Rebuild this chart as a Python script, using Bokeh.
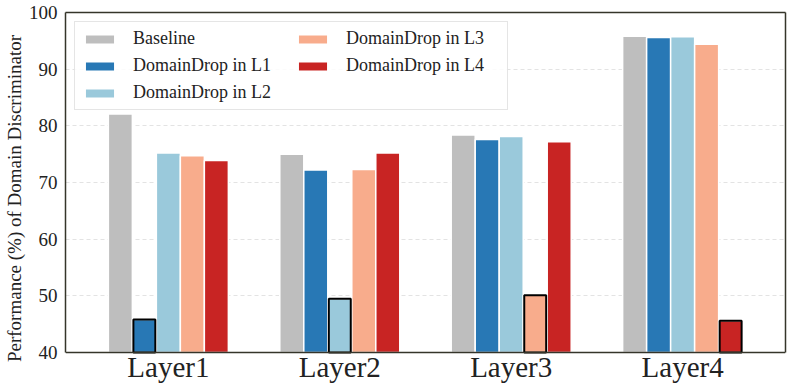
from bokeh.plotting import figure
from bokeh.models import (ColumnDataSource, FactorRange, Range1d, Legend, LegendItem, Title,
                          SingleIntervalTicker, LabelSet, LinearAxis, CategoricalAxis, Span)
from bokeh.transform import dodge
from bokeh.embed import file_html
from bokeh.resources import INLINE

layers = ["Layer1", "Layer2", "Layer3", "Layer4"]
series_names = ["Baseline", "DomainDrop in L1", "DomainDrop in L2", "DomainDrop in L3", "DomainDrop in L4"]
baseline = [82.1, 75.0, 78.4, 95.8]
drop_l1 = [45.8, 72.2, 77.6, 95.6]
drop_l2 = [75.2, 49.5, 78.1, 95.7]
drop_l3 = [74.7, 72.3, 50.1, 94.4]
drop_l4 = [73.9, 75.2, 77.2, 45.6]
colors = ["#bebebe", "#2878b5", "#9ac9db", "#f8ac8c", "#c82423"]

series = [baseline, drop_l1, drop_l2, drop_l3, drop_l4]
bar_w = 0.14
offsets = [-2 * bar_w, -bar_w, 0.0, bar_w, 2 * bar_w]
Y0, Y1 = 40, 100
Y_LOW = 34.35  # extra room inside the frame for the category labels

FONT = "Liberation Serif"
FRAME = "#35352a"
TXT = "#222222"

p = figure(x_range=FactorRange(*layers, range_padding=0.1, range_padding_units="absolute"),
           y_range=Range1d(Y_LOW, Y1), width=789, height=384,
           output_backend="svg", toolbar_location=None,
           min_border_left=40, min_border_right=4, min_border_top=12, min_border_bottom=0)

src = ColumnDataSource(dict(x=layers, **{f"s{i}": s for i, s in enumerate(series)}))

p.ygrid.ticker = SingleIntervalTicker(interval=10)

items = []
for i, (name, col) in enumerate(zip(series_names, colors)):
    r = p.vbar(x=dodge("x", offsets[i], range=p.x_range), top=f"s{i}", bottom=Y0, width=bar_w,
               source=src, fill_color=col, line_color="white", line_width=1.5)
    items.append(LegendItem(label=name, renderers=[r]))

# highlighted bars: series k dropped in layer k
for k in range(1, 5):
    hs = ColumnDataSource(dict(x=[layers[k - 1]], top=[series[k][k - 1]]))
    p.vbar(x=dodge("x", offsets[k], range=p.x_range), top="top", bottom=Y0, width=bar_w - 0.012,
           source=hs, fill_color=None, line_color="black", line_width=2)

legend = Legend(items=items, location="top_left", nrows=3, orientation="vertical",
                label_text_font=FONT, label_text_font_size="18px", label_text_color=TXT,
                glyph_width=37, glyph_height=12, label_standoff=15, label_width=155,
                label_height=20, spacing=6, padding=6, margin=9,
                border_line_color="#cccccc", border_line_width=1.2,
                background_fill_color="white", background_fill_alpha=0.85)
p.add_layout(legend)

# bottom frame line at the bottom of the value axis
p.add_layout(Span(location=Y0, dimension="width", line_color=FRAME, line_width=1.5))

# category labels under the bars
cat_labels = LabelSet(x="x", y=Y0, text="x", source=src, y_offset=-25,
                      text_align="center", text_baseline="alphabetic",
                      text_font=FONT, text_font_size="29px", text_color=TXT)
p.add_layout(cat_labels)
p.xaxis.visible = False

# top and right frame lines
top_ax = CategoricalAxis(major_label_text_font_size="1px", major_label_text_alpha=0,
                         major_label_standoff=0, major_tick_line_color=None,
                         major_tick_out=0, major_tick_in=0,
                         axis_line_color=FRAME, axis_line_width=1.5)
p.add_layout(top_ax, "above")
right_ax = LinearAxis(bounds=(Y0, Y1), major_label_text_font_size="1px", major_label_text_alpha=0,
                      major_label_standoff=0, major_tick_line_color=None, minor_tick_line_color=None,
                      major_tick_out=0, major_tick_in=0,
                      axis_line_color=FRAME, axis_line_width=1.5)
p.add_layout(right_ax, "right")

ya = p.yaxis[0]
ya.bounds = (Y0, Y1)
ya.ticker = SingleIntervalTicker(interval=10)
ya.major_label_text_font = FONT
ya.major_label_text_font_size = "19px"
ya.major_label_text_color = TXT
ya.major_label_standoff = 4
ya.major_tick_line_color = None
ya.minor_tick_line_color = None
ya.major_tick_out = 0
ya.major_tick_in = 0
ya.axis_line_color = FRAME
ya.axis_line_width = 1.5

# value-axis title, centred on the 40-100 span
ytitle = Title(text="Performance (%) of Domain Discriminator", align="center", offset=25,
               text_font=FONT, text_font_size="19px", text_font_style="normal",
               text_color=TXT, standoff=2)
p.add_layout(ytitle, "left")

p.outline_line_color = None
p.xgrid.grid_line_color = None
p.ygrid.grid_line_color = "#e3e3e3"
p.ygrid.grid_line_dash = "4 3"
p.ygrid.grid_line_width = 1
p.background_fill_color = "white"

open("out.html", "w").write(file_html(p, INLINE))
